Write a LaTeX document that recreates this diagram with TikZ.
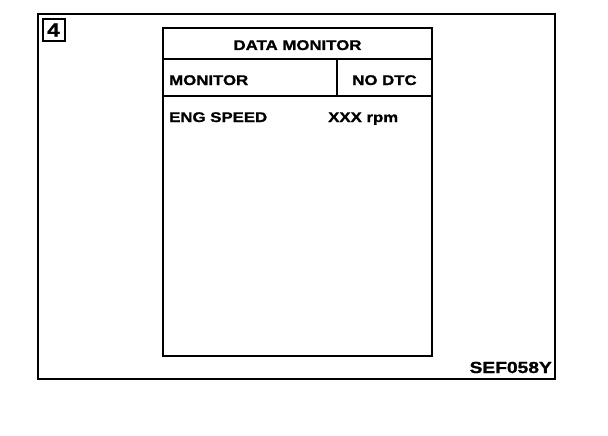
\documentclass[tikz,border=0pt]{standalone}
\usepackage{fontspec}
\newfontfamily\scanfont{Liberation Sans Bold}[FakeStretch=1.2, FakeBold=1.2]
\usetikzlibrary{positioning}
\tikzstyle{screentext} = [inner sep = 0pt, font = \scanfont\fontsize{14}{16}\selectfont]
\tikzstyle{framebox} = [rectangle, draw = black, line width = 1.4pt]
\tikzstyle{screenbox} = [rectangle, draw = black, line width = 2.4pt]
\tikzstyle{divider} = [draw = black, line width = 1.3pt]

\begin{document}
\begin{tikzpicture}[x = 1pt, y = -1pt]
        \useasboundingbox (0,0) rectangle (608,436);
        \draw [framebox] (38,14) rectangle (555,379);
        \node (step) [framebox, line width = 2pt, minimum width = 22pt, minimum height = 22pt, inner sep = 0pt,
              font = \scanfont\fontsize{19}{20}\selectfont] at (53.5,30) {4};
        \draw [screenbox] (163,28) rectangle (432,356);
        \draw [divider] (163,59) -- (432,59);
        \draw [divider] (163,96) -- (432,96);
        \draw [divider] (337,59) -- (337,96);
        \node (title) [screentext, anchor = base] at (297.5,50) {DATA MONITOR};
        \node (mon)   [screentext, anchor = base west] at (169,85) {MONITOR};
        \node (nodtc) [screentext, anchor = base] at (384.5,85) {NO DTC};
        \node (eng)   [screentext, anchor = base west] at (169,122) {ENG SPEED};
        \node (rpm)   [screentext, anchor = base west] at (328,122) {XXX rpm};
        \node (code)  [screentext, anchor = base east, font = \scanfont\fontsize{16}{18}\selectfont] at (552,373) {SEF058Y};
    \end{tikzpicture}
\end{document}
